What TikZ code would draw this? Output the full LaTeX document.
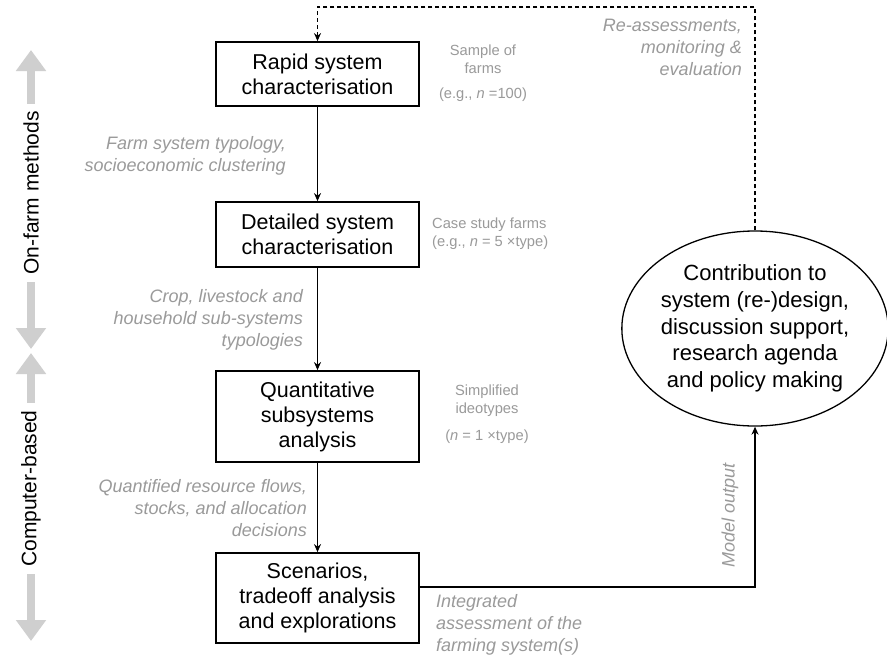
\documentclass[tikz,border=0pt]{standalone}
\usepackage{fontspec}
\setmainfont{Liberation Sans}
\usetikzlibrary{arrows.meta,shapes.geometric,calc}
\definecolor{lbl}{HTML}{9A9A9A}
\definecolor{sidegrey}{HTML}{CFCFCF}
\begin{document}
\begin{tikzpicture}[x=1pt,y=-1pt,
  box/.style={draw,line width=1.8pt,minimum width=203pt,align=center,font=\fontsize{21.5}{25}\selectfont,inner sep=0pt},
  flow/.style={line width=1.4pt,-{Stealth[length=8pt,width=7pt]}},
  note/.style={text=lbl,font=\fontsize{18}{22}\selectfont\itshape,inner sep=0pt},
  small/.style={text=lbl,font=\fontsize{14.7}{18}\selectfont,inner sep=0pt},
  side/.style={line width=8pt,sidegrey,{Triangle[length=21pt,width=29pt]}-{Triangle[length=21pt,width=29pt]}},
  sidelbl/.style={rotate=90,fill=white,inner sep=7pt,font=\fontsize{21}{25}\selectfont}
]
\fill[white] (0,0) rectangle (887,659);
\useasboundingbox (0,0) rectangle (887,659);

% main boxes
\node[box,minimum height=64pt] (b1) at (317.5,74) {Rapid system\\characterisation};
\node[box,minimum height=65pt] (b2) at (317.5,234.5) {Detailed system\\characterisation};
\node[box,minimum height=91pt] (b3) at (317.5,416.5) {Quantitative\\subsystems\\analysis};
\node[box,minimum height=90pt] (b4) at (317.5,598) {Scenarios,\\tradeoff analysis\\and explorations};

\node[draw,ellipse,line width=1.3pt,minimum width=261pt,minimum height=195pt,inner sep=0pt,align=center,font=\fontsize{22}{26.7}\selectfont] (e) at (755,328.5) {Contribution to\\system (re-)design,\\discussion support,\\research agenda\\and policy making};

% connectors
\draw[flow] (b1.south) -- (b2.north);
\draw[flow] (b2.south) -- (b3.north);
\draw[flow] (b3.south) -- (b4.north);
\coordinate (c1) at (755,587);
\draw[flow] (b4.east |- c1) -- (c1) -- (c1 |- e.south);
\coordinate (c2) at (755,7);
\draw[line width=1.3pt,dashed,dash pattern=on 4pt off 3pt,-{Stealth[length=8pt,width=7pt]}] (e.north) -- (c2) -| (b1.north);

% side arrows
\node[sidelbl] (om) at (31,193) {On-farm methods};
\coordinate (om1) at (31,50);
\coordinate (om2) at (31,349);
\draw[side] (om1) -- (om2);
\node[sidelbl] (om) at (31,193) {On-farm methods};
\coordinate (cb1) at (31,353);
\coordinate (cb2) at (31,641);
\draw[side] (cb1) -- (cb2);
\node[sidelbl] (cb) at (31,488.5) {Computer-based};

% right-hand notes
\node[small,align=center] (s1) at (483,59) {Sample of\\farms};
\node[small] (s1b) at (483,95) {(e.g., \textit{n} =100)};
\node[note,align=right,anchor=east] (r1) at (742,47) {Re-assessments,\\monitoring \&\\evaluation};
\node[small,align=left,anchor=west] (s2) at (432,234) {Case study farms\\(e.g., \textit{n} = 5 ×type)};
\node[small,align=center] (s3) at (487,401) {Simplified\\ideotypes};
\node[small] (s3b) at (487,437) {(\textit{n} = 1 ×type)};

% left-hand notes
\node[note,align=right,anchor=east] (l1) at (286,156) {Farm system typology,\\socioeconomic clustering};
\node[note,align=right,anchor=east] (l2) at (303,320) {Crop, livestock and\\household sub-systems\\typologies};
\node[note,align=right,anchor=east] (l3) at (307,508) {Quantified resource flows,\\stocks, and allocation\\decisions};
\node[note,align=left,anchor=west] (l4) at (436,625) {Integrated\\assessment of the\\farming system(s)};
\node[note,rotate=90] (mo) at (730,515) {Model output};
\end{tikzpicture}
\end{document}
